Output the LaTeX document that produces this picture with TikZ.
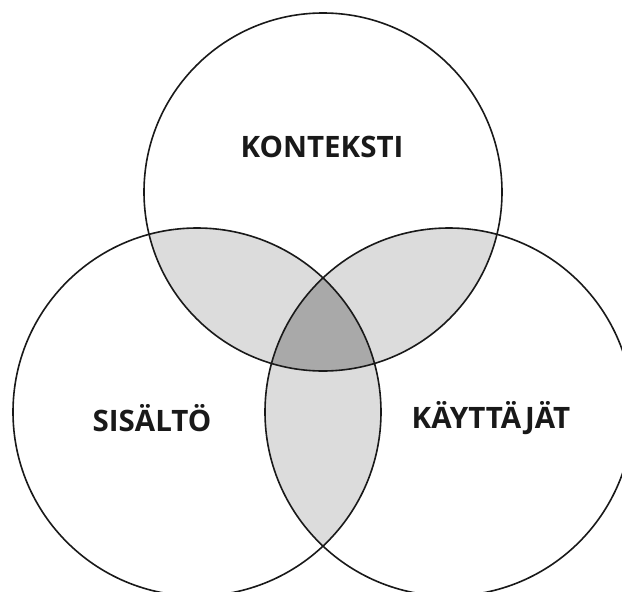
\documentclass[tikz,border=0pt]{standalone}
\usepackage{fontspec}
\newfontfamily\vennfont{Open Sans}
\usepackage{xcolor}
\definecolor{pairgray}{HTML}{DCDCDC}
\definecolor{coregray}{HTML}{A9A9A9}
\tikzset{
  ring/.style={draw=black!90, line width=1.6pt},
  setlabel/.style={font=\vennfont\bfseries\fontsize{29.5}{31}\selectfont, text=black!90, inner sep=0pt}
}

\begin{document}
\begin{tikzpicture}[x=1pt, y=-1pt]
  \useasboundingbox (0,0) rectangle (622,592);
  \coordinate (ctop) at (323,192);
  \coordinate (cleft) at (197,412);
  \coordinate (cright) at (449,412);

  % pairwise overlaps
  \begin{scope}
    \clip (ctop) circle (179);
    \fill[pairgray] (cleft) circle (184);
    \fill[pairgray] (cright) circle (184);
  \end{scope}
  \begin{scope}
    \clip (cleft) circle (184);
    \fill[pairgray] (cright) circle (184);
  \end{scope}
  % triple overlap
  \begin{scope}
    \clip (ctop) circle (179);
    \clip (cleft) circle (184);
    \fill[coregray] (cright) circle (184);
  \end{scope}

  \draw[ring] (ctop) circle (179);
  \draw[ring] (cleft) circle (184);
  \draw[ring] (cright) circle (184);

  \node[setlabel] (konteksti) at (322,147) {KONTEKSTI};
  \node[setlabel] (sisalto) at (152,418) {SISÄLTÖ};
  \node[setlabel] (kayttajat) at (491,418) {KÄYTTÄJÄT};
\end{tikzpicture}
\end{document}
